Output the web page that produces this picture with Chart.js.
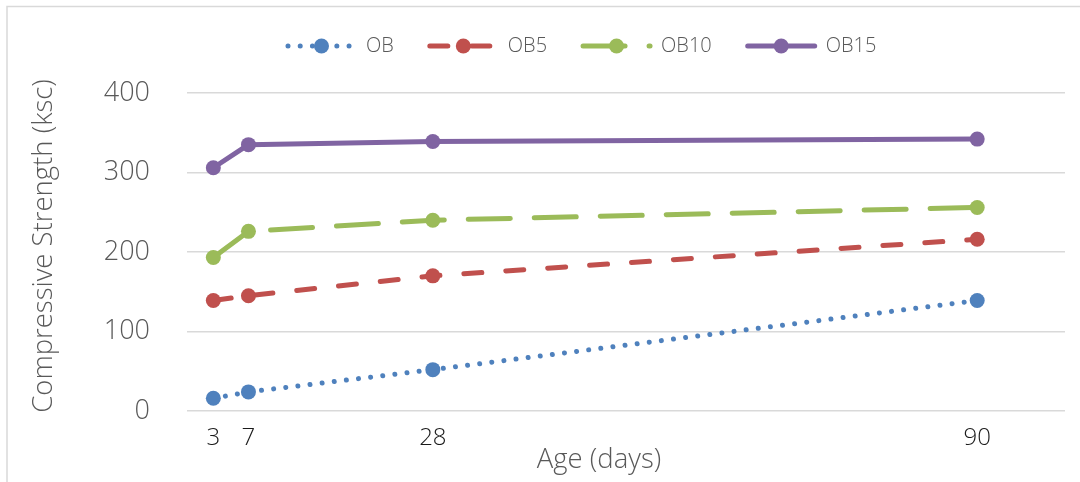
<!DOCTYPE html>
<html>
<head>
<meta charset="utf-8">
<title>Compressive Strength vs Age</title>
<script src="https://cdn.jsdelivr.net/npm/chart.js@4/dist/chart.umd.min.js"></script>
<style>
  html, body { margin: 0; padding: 0; background: #ffffff; }
  #wrap { width: 1080px; height: 482px; overflow: hidden; }
</style>
</head>
<body>
<div id="wrap"><canvas id="c" width="1080" height="482"></canvas></div>
<script>
// Curing age in days (x values and tick labels)
const ages = [3, 7, 28, 90];
const xTickValues = [3, 7, 28, 90];

// Series names
const seriesNames = ['OB', 'OB5', 'OB10', 'OB15'];

// Compressive strength (ksc) per age
const obValues   = [16, 24, 52, 139];
const ob5Values  = [139, 145, 170, 216];
const ob10Values = [193, 226, 240, 256];
const ob15Values = [306, 335, 339, 342];

// Axis titles
const xTitle = 'Age (days)';
const yTitle = 'Compressive Strength (ksc)';

const FONT = '"Open Sans", Lato, "Liberation Sans", sans-serif';
const GREY = '#595959';

function toPoints(values) {
  return ages.map((a, i) => ({ x: a, y: values[i] }));
}

function series(label, values, color, dash) {
  return {
    label: label,
    data: toPoints(values),
    borderColor: color,
    backgroundColor: color,
    borderWidth: 5,
    borderDash: dash,
    borderCapStyle: 'round',
    borderJoinStyle: 'round',
    pointRadius: 7.5,
    pointHoverRadius: 7.5,
    pointBackgroundColor: color,
    pointBorderColor: color,
    pointBorderWidth: 0,
    tension: 0,
    fill: false
  };
}

// Frame, legend and axis titles drawn on the canvas
const decor = {
  id: 'decor',
  beforeDraw(chart) {
    const ctx = chart.ctx;
    ctx.save();
    ctx.strokeStyle = '#d9d9d9';
    ctx.lineWidth = 1.5;
    ctx.beginPath();
    ctx.moveTo(7, 482);
    ctx.lineTo(7, 6.5);
    ctx.lineTo(1080, 6.5);
    ctx.stroke();
    ctx.restore();
  },
  afterDraw(chart) {
    const ctx = chart.ctx;
    ctx.save();
    // legend
    let x = 288;
    const y = 46;
    ctx.font = '300 20px ' + FONT;
    ctx.textBaseline = 'middle';
    ctx.textAlign = 'left';
    chart.data.datasets.forEach(ds => {
      ctx.setLineDash(ds.borderDash || []);
      ctx.lineCap = ds.borderCapStyle;
      ctx.lineWidth = ds.borderWidth;
      ctx.strokeStyle = ds.borderColor;
      ctx.beginPath();
      ctx.moveTo(x, y);
      ctx.lineTo(x + 67, y);
      ctx.stroke();
      ctx.setLineDash([]);
      ctx.fillStyle = ds.borderColor;
      ctx.beginPath();
      ctx.arc(x + 33.5, y, 7.5, 0, Math.PI * 2);
      ctx.fill();
      ctx.fillStyle = GREY;
      ctx.fillText(ds.label, x + 78, y);
      x += 78 + ctx.measureText(ds.label).width + 36;
    });
    // axis titles
    ctx.font = '300 27.5px ' + FONT;
    ctx.fillStyle = GREY;
    ctx.textAlign = 'center';
    ctx.textBaseline = 'middle';
    ctx.fillText(xTitle, 599, 460);
    ctx.translate(44, 246);
    ctx.rotate(-Math.PI / 2);
    ctx.fillText(yTitle, 0, 0);
    ctx.restore();
  }
};

new Chart(document.getElementById('c'), {
  type: 'line',
  data: {
    datasets: [
      series(seriesNames[0], obValues,   '#4F81BD', [0.01, 12.2]),
      series(seriesNames[1], ob5Values,  '#C0504D', [18, 24]),
      series(seriesNames[2], ob10Values, '#9BBB59', [42, 24]),
      series(seriesNames[3], ob15Values, '#8064A2', [])
    ]
  },
  options: {
    responsive: false,
    devicePixelRatio: 1,
    animation: false,
    layout: { padding: { top: 93, right: 15, left: 0, bottom: 0 } },
    plugins: {
      legend: { display: false },
      tooltip: { enabled: false }
    },
    scales: {
      x: {
        type: 'linear',
        min: 0,
        max: 100,
        afterBuildTicks(scale) {
          scale.ticks = xTickValues.map(v => ({ value: v }));
        },
        afterFit(scale) { scale.height = 71; },
        grid: { display: false },
        border: { display: false },
        ticks: {
          autoSkip: false,
          maxRotation: 0,
          padding: 5,
          color: '#1a1a1a',
          font: { family: FONT, size: 24, weight: 300 }
        }
      },
      y: {
        min: 0,
        max: 400,
        afterFit(scale) { scale.width = 187; },
        grid: { color: '#d9d9d9', lineWidth: 1.5, drawTicks: false },
        border: { display: false },
        ticks: {
          stepSize: 100,
          padding: 37,
          color: GREY,
          font: { family: FONT, size: 27, weight: 300 }
        }
      }
    }
  },
  plugins: [decor]
});
</script>
</body>
</html>
